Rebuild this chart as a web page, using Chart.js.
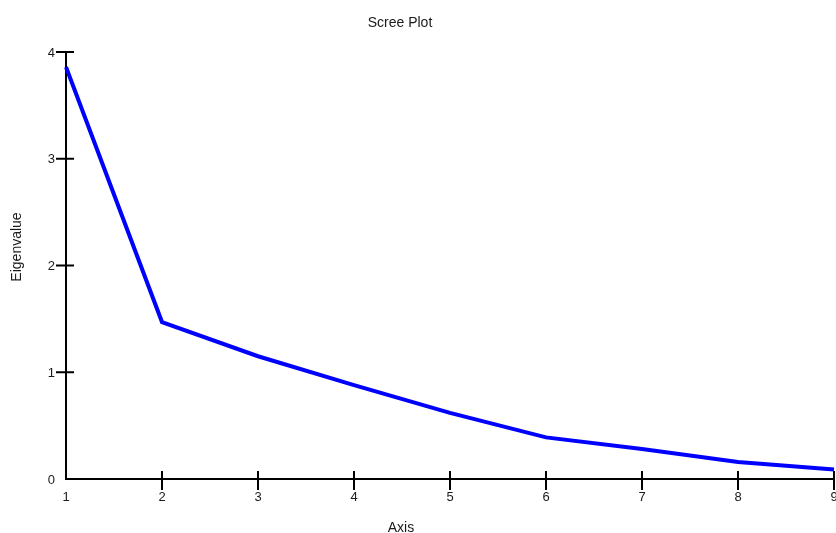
<!DOCTYPE html>
<html lang="en">
<head>
    <meta charset="UTF-8">
    <title>Scree Plot</title>
    <script src="https://cdn.jsdelivr.net/npm/chart.js@4.4.1/dist/chart.umd.min.js"></script>
    <style>
        body {
            margin: 0;
            background-color: white;
        }
        .chart-container {
            position: relative;
            width: 836px;
            height: 533px;
        }
    </style>
</head>
<body>
    <div class="chart-container">
        <canvas id="screeChart"></canvas>
    </div>

    <script>
        const axisLabels = ['1', '2', '3', '4', '5', '6', '7', '8', '9'];
        const eigenvalues = [3.86, 1.47, 1.15, 0.88, 0.62, 0.39, 0.28, 0.16, 0.09];
        const yTicks = [0, 1, 2, 3, 4];

        const fontFamily = '"Liberation Sans", Arial, sans-serif';

        // cross-shaped tick marks, tick labels and titles
        const axesDecor = {
            id: 'axesDecor',
            afterDraw(chart) {
                const ctx = chart.ctx;
                const x = chart.scales.x;
                const y = chart.scales.y;
                const area = chart.chartArea;
                ctx.save();
                ctx.strokeStyle = '#000';
                ctx.lineWidth = 2;
                ctx.fillStyle = '#1a1a1a';
                ctx.font = '13px ' + fontFamily;

                // y ticks
                ctx.textAlign = 'right';
                ctx.textBaseline = 'middle';
                yTicks.forEach(v => {
                    const py = y.getPixelForValue(v);
                    if (v > 0) {
                        ctx.beginPath();
                        ctx.moveTo(area.left - 10, py);
                        ctx.lineTo(area.left + 8, py);
                        ctx.stroke();
                    }
                    ctx.fillText(String(v), area.left - 11, py + 1);
                });

                // x ticks
                ctx.textAlign = 'center';
                ctx.textBaseline = 'top';
                axisLabels.forEach((lab, i) => {
                    const px = x.getPixelForValue(i);
                    if (i > 0) {
                        ctx.beginPath();
                        ctx.moveTo(px, area.bottom - 8);
                        ctx.lineTo(px, area.bottom + 11);
                        ctx.stroke();
                    }
                    ctx.fillText(lab, px, area.bottom + 12);
                });

                // titles
                ctx.font = '14px ' + fontFamily;
                ctx.textBaseline = 'alphabetic';
                ctx.fillText('Scree Plot', 400, 27);
                ctx.fillText('Axis', 401, 532);
                ctx.translate(17, 247);
                ctx.rotate(-Math.PI / 2);
                ctx.textBaseline = 'middle';
                ctx.fillText('Eigenvalue', 0, 0);
                ctx.restore();
            }
        };

        const ctx = document.getElementById('screeChart').getContext('2d');
        const screeChart = new Chart(ctx, {
            type: 'line',
            data: {
                labels: axisLabels,
                datasets: [{
                    data: eigenvalues,
                    borderColor: '#0000ff',
                    borderWidth: 4,
                    pointRadius: 0,
                    tension: 0,
                    fill: false
                }]
            },
            options: {
                responsive: true,
                maintainAspectRatio: false,
                animation: false,
                layout: {
                    padding: { top: 52, right: 2, bottom: 0, left: 0 }
                },
                plugins: {
                    legend: { display: false },
                    title: { display: false },
                    tooltip: { enabled: false }
                },
                scales: {
                    x: {
                        type: 'category',
                        offset: false,
                        grid: { display: false },
                        border: { display: true, color: '#000', width: 2 },
                        ticks: { display: false },
                        afterFit(scale) { scale.height = 54; }
                    },
                    y: {
                        min: 0,
                        max: 4,
                        grid: { display: false },
                        border: { display: true, color: '#000', width: 2 },
                        ticks: { display: false },
                        afterFit(scale) { scale.width = 66; }
                    }
                }
            },
            plugins: [axesDecor]
        });
    </script>
</body>
</html>
